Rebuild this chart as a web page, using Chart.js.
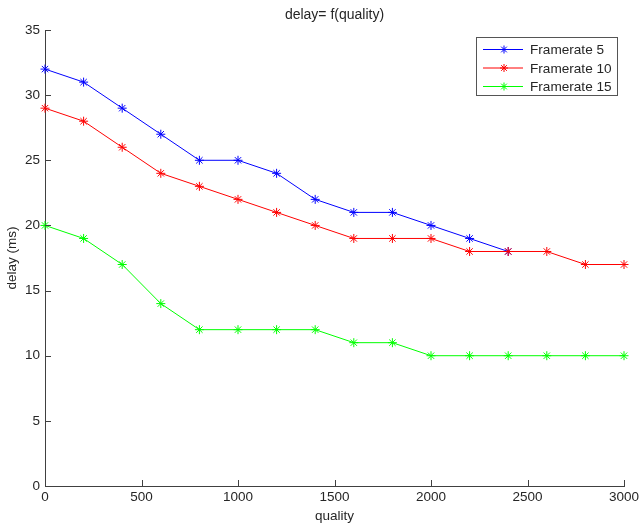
<!DOCTYPE html>
<html>
<head>
<meta charset="utf-8">
<script src="https://cdn.jsdelivr.net/npm/chart.js@4"></script>
<style>
  html, body { margin: 0; padding: 0; background: #fff; }
  #wrap { width: 639px; height: 525px; }
</style>
</head>
<body>
<div id="wrap"><canvas id="delayChart" width="639" height="525"></canvas></div>
<script>
// data
const quality = [0, 200, 400, 600, 800, 1000, 1200, 1400, 1600, 1800, 2000, 2200, 2400, 2600, 2800, 3000];
const framerate5 = [32, 31, 29, 27, 25, 25, 24, 22, 21, 21, 20, 19, 18];
const framerate10 = [29, 28, 26, 24, 23, 22, 21, 20, 19, 19, 19, 18, 18, 18, 17, 17];
const framerate15 = [20, 19, 17, 14, 12, 12, 12, 12, 11, 11, 10, 10, 10, 10, 10, 10];
const seriesLabels = ["Framerate 5", "Framerate 10", "Framerate 15"];
const seriesColors = ["#0000ff", "#ff0000", "#00ff00"];
const xTicks = [0, 500, 1000, 1500, 2000, 2500, 3000];
const yTicks = [0, 5, 10, 15, 20, 25, 30, 35];

const FONT = "'Liberation Sans', Helvetica, Arial, sans-serif";
const TEXT = "#262626";
const AXIS = "#404040";

function toPoints(vals) {
  return vals.map((v, i) => ({ x: quality[i], y: v }));
}

// later series painted on top, like matlab's hold on
const datasets = [framerate5, framerate10, framerate15].map((vals, i) => ({
  label: seriesLabels[i],
  data: toPoints(vals),
  order: 2 - i,
  borderColor: seriesColors[i],
  backgroundColor: seriesColors[i],
  borderWidth: 1,
  pointStyle: "star",
  pointRadius: 4.5,
  pointBorderWidth: 1,
  pointBorderColor: seriesColors[i],
  tension: 0,
  clip: false,
}));

// inward tick marks + legend box inside the axes
const matlabBits = {
  id: "matlabBits",
  afterDraw(chart) {
    const ctx = chart.ctx;
    const xs = chart.scales.x, ys = chart.scales.y;
    const area = chart.chartArea;
    ctx.save();
    ctx.strokeStyle = AXIS;
    ctx.lineWidth = 1;
    ctx.beginPath();
    xTicks.forEach((t) => {
      const px = Math.round(xs.getPixelForValue(t)) + 0.5;
      ctx.moveTo(px, area.bottom);
      ctx.lineTo(px, area.bottom - 6);
    });
    yTicks.forEach((t) => {
      const py = Math.round(ys.getPixelForValue(t)) + 0.5;
      ctx.moveTo(area.left, py);
      ctx.lineTo(area.left + 6, py);
    });
    ctx.stroke();

    // legend
    const bx = 476.5, by = 37.5, bw = 141, bh = 58;
    ctx.fillStyle = "#fff";
    ctx.fillRect(bx, by, bw, bh);
    ctx.strokeStyle = "#555";
    ctx.strokeRect(bx, by, bw, bh);
    ctx.font = "13.6px " + FONT;
    ctx.textBaseline = "middle";
    ctx.textAlign = "left";
    chart.data.datasets.forEach((ds, i) => {
      const cy = 49.5 + i * 18.5;
      ctx.strokeStyle = ds.borderColor;
      ctx.beginPath();
      ctx.moveTo(483, cy);
      ctx.lineTo(523, cy);
      ctx.stroke();
      Chart.helpers.drawPoint(ctx, { pointStyle: "star", radius: 4, borderWidth: 1 }, 504, cy);
      ctx.fillStyle = TEXT;
      ctx.fillText(ds.label, 530, cy + 1);
    });
    ctx.restore();
  },
};

new Chart(document.getElementById("delayChart"), {
  type: "line",
  data: { datasets: datasets },
  plugins: [matlabBits],
  options: {
    responsive: false,
    animation: false,
    layout: { padding: { left: 0, right: 15, top: 0, bottom: 0 } },
    plugins: {
      legend: { display: false },
      tooltip: { enabled: false },
      title: {
        display: true,
        fullSize: false,
        text: "delay= f(quality)",
        color: TEXT,
        font: { family: FONT, size: 14, weight: "normal", lineHeight: 1.2 },
        padding: { top: 6.6, bottom: 6.6 },
      },
    },
    scales: {
      x: {
        type: "linear",
        min: 0,
        max: 3000,
        afterFit: (s) => { s.height = 39; s.paddingLeft = 0; s.paddingRight = 0; },
        afterBuildTicks: (s) => { s.ticks = xTicks.map((v) => ({ value: v })); },
        grid: { display: false, drawTicks: false },
        border: { display: true, color: AXIS, width: 1 },
        ticks: {
          color: TEXT,
          padding: 3,
          maxRotation: 0,
          font: { family: FONT, size: 13.5 },
          callback: (v) => String(v),
        },
        title: {
          display: true,
          text: "quality",
          color: TEXT,
          padding: { top: 0, bottom: 1 },
          font: { family: FONT, size: 13.5, lineHeight: 1.2 },
        },
      },
      y: {
        type: "linear",
        min: 0,
        max: 35,
        afterFit: (s) => { s.width = 45; },
        afterBuildTicks: (s) => { s.ticks = yTicks.map((v) => ({ value: v })); },
        grid: { display: false, drawTicks: false },
        border: { display: true, color: AXIS, width: 1 },
        ticks: { color: TEXT, padding: 5, font: { family: FONT, size: 13.5 }, callback: (v) => String(v) },
        title: {
          display: true,
          text: "delay (ms)",
          color: TEXT,
          padding: { top: 4, bottom: 0 },
          font: { family: FONT, size: 13.5, lineHeight: 1.2 },
        },
      },
    },
  },
});
</script>
</body>
</html>
